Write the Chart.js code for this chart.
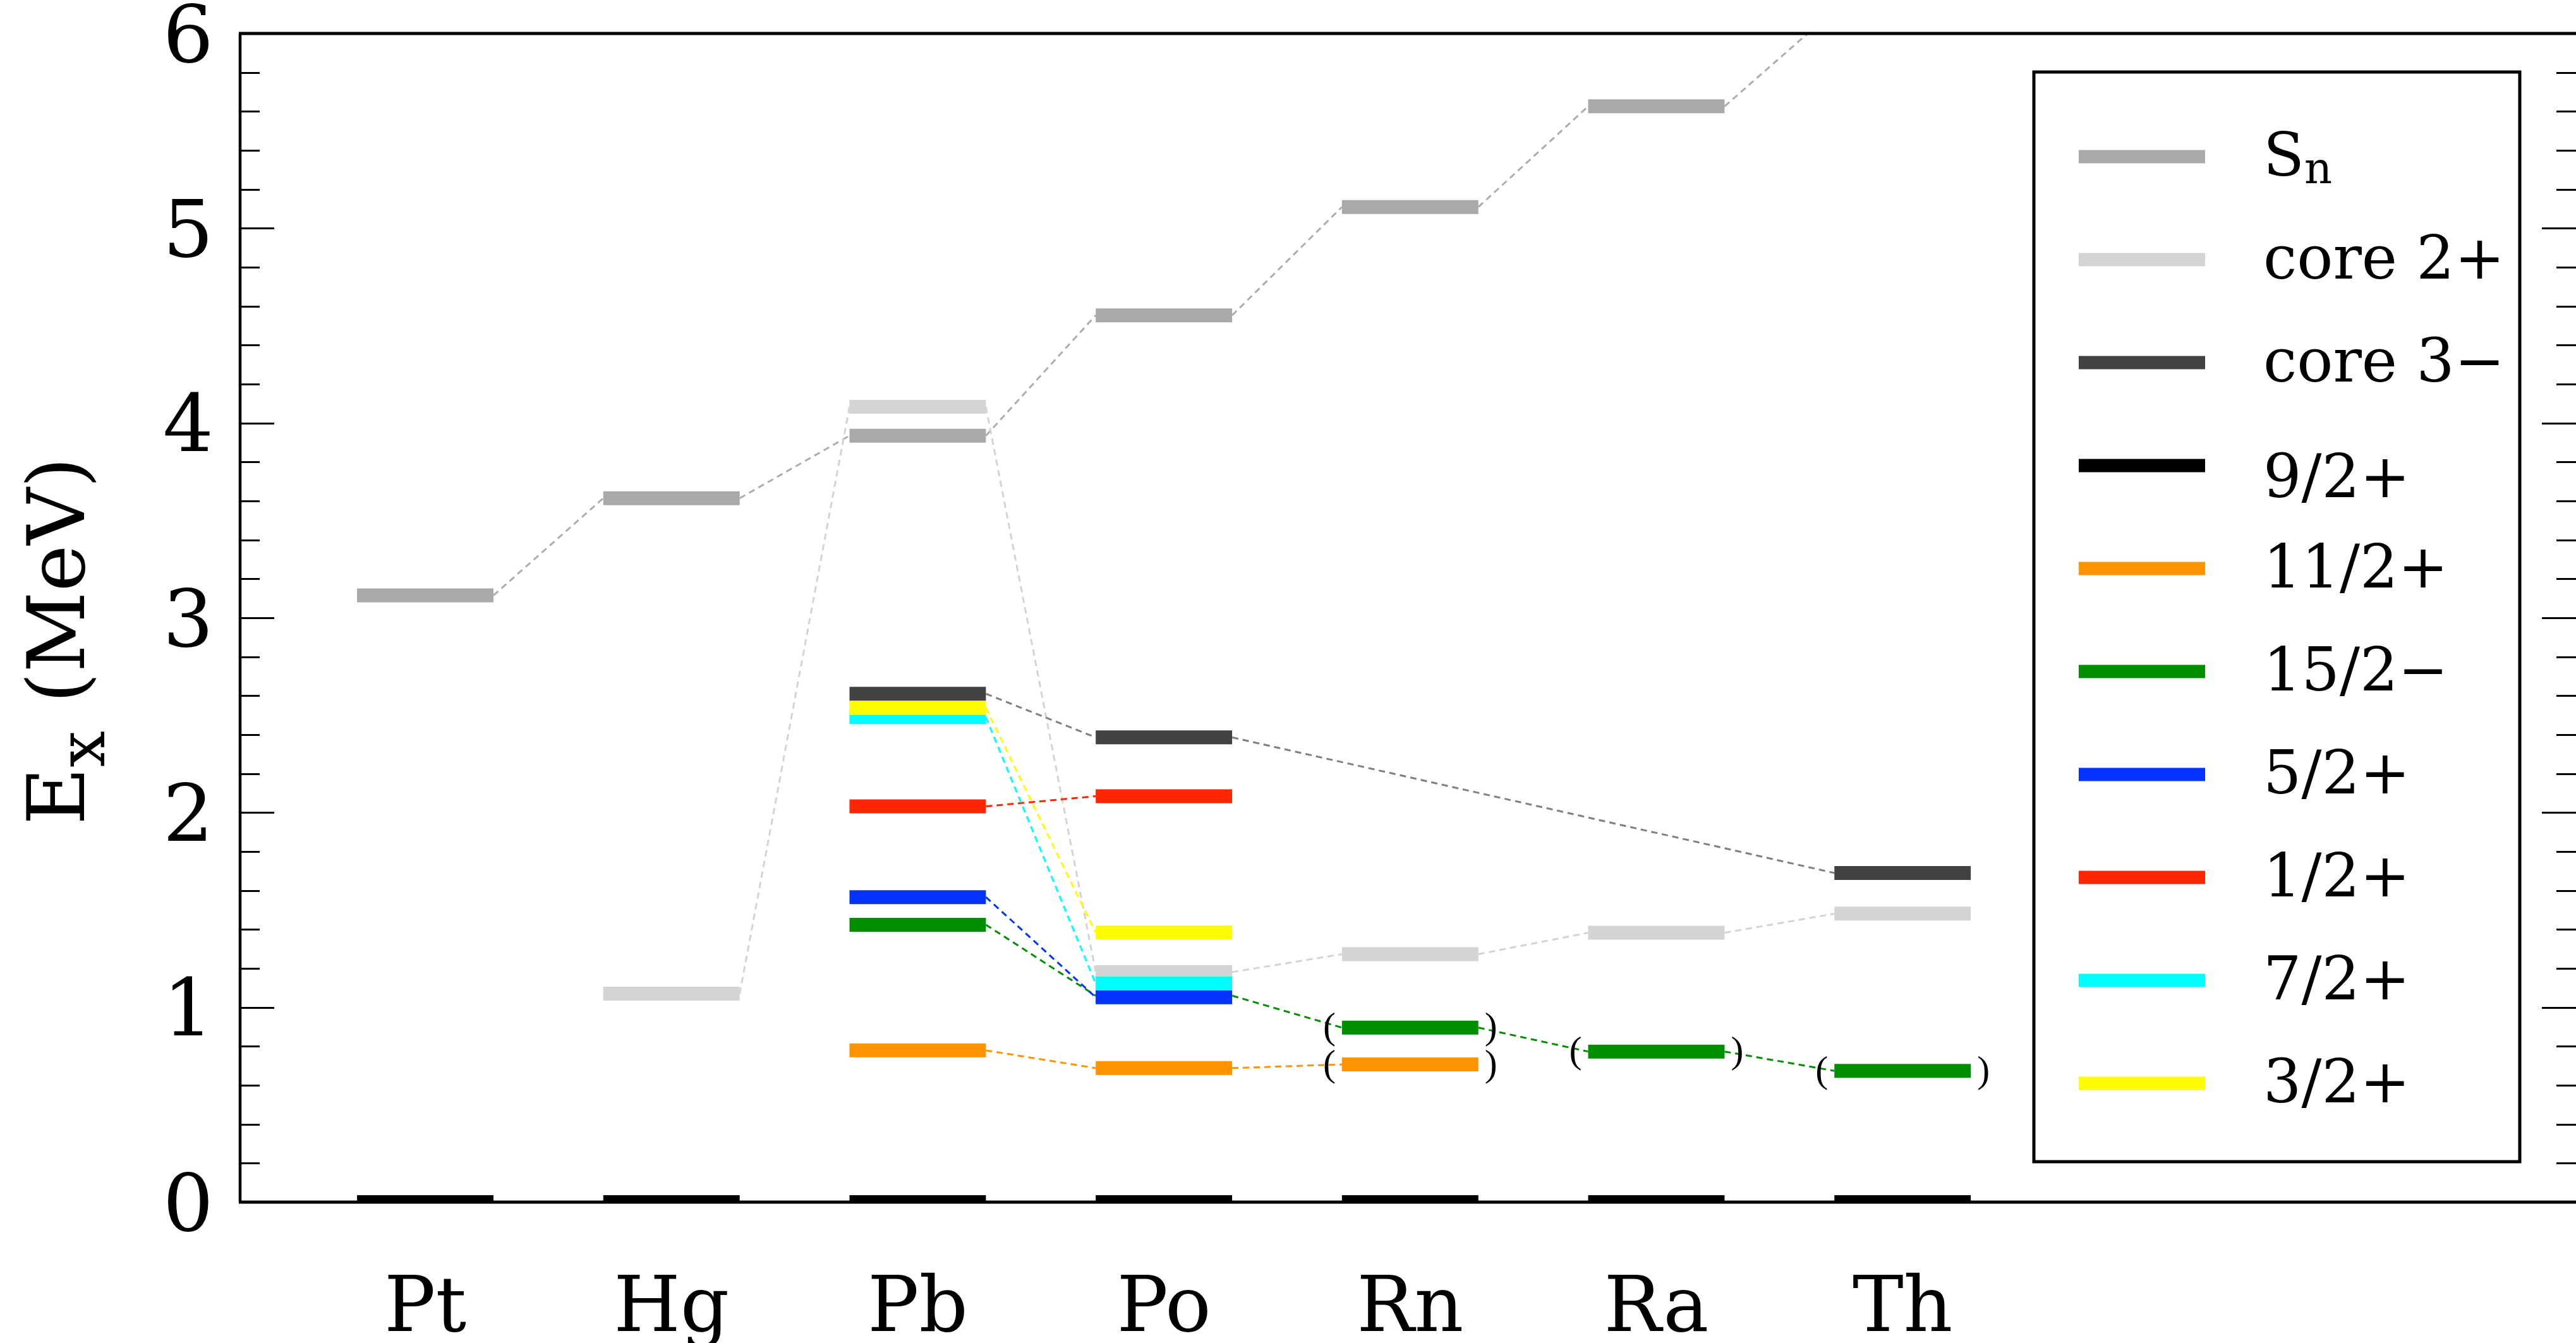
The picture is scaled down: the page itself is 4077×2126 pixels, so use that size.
<!DOCTYPE html>
<html>
<head>
<meta charset="utf-8">
<script src="https://cdn.jsdelivr.net/npm/chart.js@4.4.1/dist/chart.umd.min.js"></script>
<style>
  html, body { margin: 0; padding: 0; background: #fff; }
  #wrap { width: 4077px; height: 2126px; }
</style>
</head>
<body>
<div id="wrap"><canvas id="chart"></canvas></div>
<script>
// nuclei along the x axis
const nuclei = ['Pt', 'Hg', 'Pb', 'Po', 'Rn', 'Ra', 'Th'];
const yTicks = [0, 1, 2, 3, 4, 5, 6];

// legend labels ("_" marks a subscript)
const seriesLabels = ['S_n', 'core 2+', 'core 3−', '9/2+', '11/2+', '15/2−', '5/2+', '1/2+', '7/2+', '3/2+'];
const seriesColors = ['#a9a9a9', '#d4d4d4', '#424242', '#000000', '#ff9300', '#008f00', '#0433ff', '#ff2600', '#00fdff', '#fffb00'];
const linkColors   = ['#adadad', '#d4d4d4', '#808080', '#000000', '#ff9300', '#008f00', '#0433ff', '#ff2600', '#00fdff', '#fffb00'];

// level energies (MeV) per nucleus, null = no level
const sn    = [3.115, 3.614, 3.935, 4.553, 5.109, 5.626, 6.12];
const core2 = [null, 1.070, 4.083, 1.181, 1.273, 1.383, 1.481];
const core3 = [null, null, 2.610, 2.386, null, null, 1.690];
const j9p   = [0, 0, 0, 0, 0, 0, 0];
const j11p  = [null, null, 0.779, 0.688, 0.707, null, null];
const j15m  = [null, null, 1.424, 1.060, 0.896, 0.773, 0.674];
const j5p   = [null, null, 1.566, 1.052, null, null, null];
const j1p   = [null, null, 2.032, 2.084, null, null, null];
const j7p   = [null, null, 2.490, 1.122, null, null, null];
const j3p   = [null, null, 2.537, 1.384, null, null, null];
const series = [sn, core2, core3, j9p, j11p, j15m, j5p, j1p, j7p, j3p];

// tentative levels shown in brackets: [series, nucleus]
const tentative = [[5, 4], [4, 4], [5, 5], [5, 6]];

const HALF = 0.277;       // half width of a level bar, in x units
const LEVEL_W = 22;
const LINK_W = 3;

function levelPoints(vals) {
  const pts = [];
  vals.forEach((v, i) => {
    if (v === null) return;
    pts.push({ x: i - HALF, y: v }, { x: i + HALF, y: v });
  });
  return pts;
}

const datasets = series.map((vals, k) => ({
  label: seriesLabels[k],
  data: levelPoints(vals),
  borderColor: seriesColors[k],
  borderWidth: LEVEL_W,
  pointRadius: 0,
  tension: 0,
  fill: false,
  clip: 0,
  order: series.length - k,
  segment: {
    borderWidth: c => c.p0DataIndex % 2 === 0 ? LEVEL_W : LINK_W,
    borderDash: c => c.p0DataIndex % 2 === 0 ? [] : [10, 7],
    borderColor: c => c.p0DataIndex % 2 === 0 ? seriesColors[k] : linkColors[k]
  }
}));

function richRuns(text) {
  const runs = [];
  const re = /_(\w)/g;
  let last = 0, m;
  while ((m = re.exec(text))) {
    if (m.index > last) runs.push({ t: text.slice(last, m.index), sub: false });
    runs.push({ t: m[1], sub: true });
    last = re.lastIndex;
  }
  if (last < text.length) runs.push({ t: text.slice(last), sub: false });
  return runs;
}

function drawRich(ctx, text, x, y, size, subScale, subDrop) {
  let cx = x;
  richRuns(text).forEach(r => {
    const s = r.sub ? size * subScale : size;
    ctx.font = s + 'px "DejaVu Serif"';
    ctx.fillText(r.t, cx, y + (r.sub ? subDrop : 0));
    cx += ctx.measureText(r.t).width + (r.sub ? 4 : 0);
  });
}

const decor = {
  id: 'decor',
  afterDatasetsDraw(chart) {
    const { ctx, chartArea: a, scales: { x, y } } = chart;
    ctx.save();
    ctx.strokeStyle = '#000';

    // tick marks pointing inwards on both sides
    ctx.lineWidth = 3;
    for (let k = 0; k <= 30; k++) {
      const v = k / 5;
      const py = Math.round(y.getPixelForValue(v)) + 0.5;
      const len = k % 5 === 0 ? 54 : 31;
      ctx.beginPath();
      ctx.moveTo(a.left, py); ctx.lineTo(a.left + len, py);
      ctx.moveTo(a.right, py); ctx.lineTo(a.right - len, py);
      ctx.stroke();
    }

    // frame
    ctx.lineWidth = 4.5;
    ctx.beginPath();
    ctx.moveTo(a.left, a.top); ctx.lineTo(a.left, a.bottom);
    ctx.stroke();
    ctx.lineWidth = 5;
    ctx.beginPath();
    ctx.moveTo(a.left - 2, a.top); ctx.lineTo(a.right, a.top);
    ctx.moveTo(a.left - 2, a.bottom); ctx.lineTo(a.right, a.bottom);
    ctx.stroke();

    // brackets around tentative levels
    ctx.fillStyle = '#000';
    ctx.font = '60px "Liberation Serif"';
    ctx.textAlign = 'center';
    ctx.textBaseline = 'middle';
    tentative.forEach(([s, n]) => {
      const py = y.getPixelForValue(series[s][n]) + 2;
      ctx.fillText('(', x.getPixelForValue(n - HALF) - 20, py);
      ctx.fillText(')', x.getPixelForValue(n + HALF) + 20, py);
    });

    // legend box
    const L = { x1: 3219, y1: 114, x2: 3988, y2: 1839 };
    ctx.fillStyle = '#fff';
    ctx.fillRect(L.x1, L.y1, L.x2 - L.x1, L.y2 - L.y1);
    ctx.lineWidth = 5;
    ctx.strokeRect(L.x1, L.y1, L.x2 - L.x1, L.y2 - L.y1);
    ctx.textAlign = 'left';
    ctx.textBaseline = 'alphabetic';
    chart.data.datasets.forEach((ds, i) => {
      const ry = 248 + i * 163;
      ctx.strokeStyle = ds.borderColor;
      ctx.lineWidth = 21;
      ctx.beginPath();
      ctx.moveTo(3290, ry); ctx.lineTo(3490, ry);
      ctx.stroke();
      ctx.fillStyle = '#000';
      drawRich(ctx, ds.label, 3582, ry + 30 + (i === 3 ? 20 : 0), 95, 0.72, 12);
    });
    ctx.restore();
  },
  afterDraw(chart) {
    const { ctx } = chart;
    ctx.save();
    ctx.fillStyle = '#000';
    ctx.textAlign = 'left';
    ctx.textBaseline = 'alphabetic';
    ctx.translate(133, 1306);
    ctx.rotate(-Math.PI / 2);
    drawRich(ctx, 'E_x (MeV)', 0, 0, 125, 0.82, 32);
    ctx.restore();
  }
};

Chart.defaults.font.family = '"DejaVu Serif"';
Chart.defaults.color = '#000';

new Chart(document.getElementById('chart'), {
  type: 'line',
  data: { datasets },
  options: {
    responsive: true,
    maintainAspectRatio: false,
    devicePixelRatio: 1,
    animation: false,
    events: [],
    layout: { padding: { top: 53, left: 0, right: 0, bottom: 0 } },
    plugins: { legend: { display: false }, tooltip: { enabled: false } },
    scales: {
      x: {
        type: 'linear',
        min: -0.752,
        max: 8.735,
        afterBuildTicks: s => { s.ticks = nuclei.map((n, i) => ({ value: i })); },
        ticks: {
          callback: v => nuclei[v] ?? '',
          font: { size: 121 },
          padding: 100,
          maxRotation: 0,
          autoSkip: false
        },
        grid: { display: false, drawTicks: false },
        border: { display: false },
        afterFit: s => { s.height = 223; s.paddingLeft = 0; s.paddingRight = 0; }
      },
      y: {
        min: 0,
        max: 6,
        afterBuildTicks: s => { s.ticks = yTicks.map(v => ({ value: v })); },
        ticks: { font: { size: 126 }, padding: 42, labelOffset: 12 },
        grid: { display: false, drawTicks: false },
        border: { display: false },
        afterFit: s => { s.width = 380; s.paddingTop = 0; s.paddingBottom = 0; }
      }
    }
  },
  plugins: [decor]
});
</script>
</body>
</html>
